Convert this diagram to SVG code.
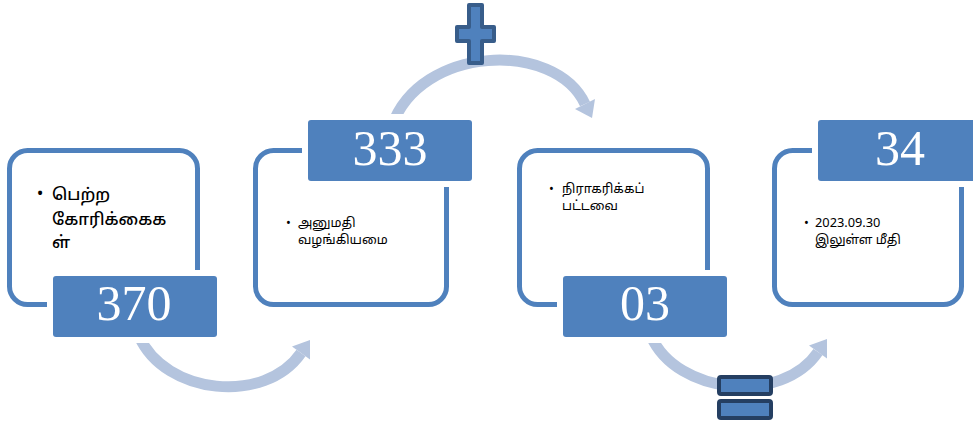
<svg xmlns="http://www.w3.org/2000/svg" width="973" height="427" viewBox="0 0 973 427">
<style>
.frame{fill:#ffffff;stroke:#4f81bd;stroke-width:5}
.halo{fill:#ffffff}
.label{fill:#4f81bd}
.num{font-family:"Liberation Serif","Times New Roman",serif;font-size:50px;fill:#ffffff;text-anchor:middle}
.arc{fill:none;stroke:#b4c4de;stroke-width:11}
.head{fill:#b4c4de}
.t{font-family:"Noto Sans Tamil","Latha","Noto Sans","DejaVu Sans","Liberation Sans",sans-serif;fill:#000000}
.t1{font-size:16.5px;font-weight:500}
.t2{font-size:12.8px}
.sym{fill:#4f81bd;stroke-width:4;stroke-linejoin:round}
</style>
<rect width="973" height="427" fill="#ffffff"/>
<g id="connectors">
<path class="arc" d="M139 336 C165 395 265 405 301 353"/>
<polygon class="head" points="310,340 310,359.5 292,346.5"/>
<path class="arc" d="M392 126 C420 45 555 40 585 104"/>
<polygon class="head" points="592,118 595,99 575,109"/>
<path class="arc" d="M651 336 C677 395 782 405 818 352"/>
<polygon class="head" points="827,339 827,358.5 809,345.5"/>
</g>
<g id="node1">
<rect class="frame" x="9.5" y="150.5" width="188" height="154" rx="18"/>
<rect class="halo" x="47" y="270" width="176" height="73" rx="5"/>
<rect class="label" x="53" y="276" width="164" height="61" rx="3"/>
<text class="num" x="134" y="320">370</text>
<text class="t t1" x="37" y="199">•</text>
<text class="t t1" x="52" y="200">பெற்ற</text>
<text class="t t1" x="52" y="225">கோரிக்கைக</text>
<text class="t t1" x="52" y="248">ள்</text>
</g>
<g id="node2">
<rect class="frame" x="255.5" y="150.5" width="191" height="154" rx="18"/>
<rect class="halo" x="302" y="114" width="176" height="73" rx="5"/>
<rect class="label" x="308" y="120" width="164" height="61" rx="3"/>
<text class="num" x="390" y="165">333</text>
<text class="t t2" x="286" y="227">•</text>
<text class="t t2" x="298" y="227">அனுமதி</text>
<text class="t t2" x="298" y="244">வழங்கியமை</text>
</g>
<g id="node3">
<rect class="frame" x="519.5" y="150.5" width="188" height="154" rx="18"/>
<rect class="halo" x="557" y="270" width="176" height="73" rx="5"/>
<rect class="label" x="563" y="276" width="164" height="61" rx="3"/>
<text class="num" x="645" y="320">03</text>
<text class="t t2" x="549" y="193">•</text>
<text class="t t2" x="562" y="193">நிராகரிக்கப்</text>
<text class="t t2" x="562" y="210">பட்டவை</text>
</g>
<g id="node4">
<rect class="frame" x="774.5" y="150.5" width="187" height="154" rx="18"/>
<rect class="halo" x="812" y="114" width="176" height="73" rx="5"/>
<rect class="label" x="818" y="120" width="164" height="61" rx="3"/>
<text class="num" x="900" y="165">34</text>
<text class="t t2" x="804" y="227">•</text>
<text class="t t2" x="815" y="227">2023.09.30</text>
<text class="t t2" x="815" y="244">இலுள்ள மீதி</text>
</g>
<g id="plus">
<path class="sym" stroke="#385d8a" d="M469 5 H482 V27 H494 V41 H482 V63 H469 V41 H457 V27 H469 Z"/>
</g>
<g id="equals">
<rect class="sym" stroke="#253f62" x="719" y="377" width="52" height="17" rx="2"/>
<rect class="sym" stroke="#253f62" x="719" y="401" width="52" height="17" rx="2"/>
</g>
</svg>
